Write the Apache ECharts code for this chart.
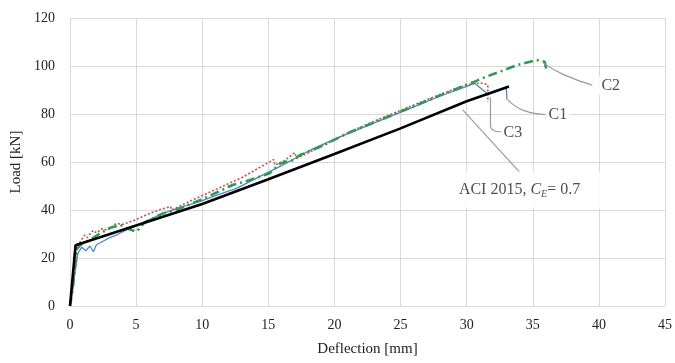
<!DOCTYPE html>
<html>
<head>
<meta charset="utf-8">
<script src="https://cdn.jsdelivr.net/npm/echarts@6/dist/echarts.min.js"></script>
<style>
  html, body { margin: 0; padding: 0; background: #fff; }
  #chart { width: 675px; height: 363px; }
</style>
</head>
<body>
<div id="chart"></div>
<script>
// Load–deflection curves for specimens C1–C3 vs ACI 2015 prediction.
// [deflection mm, load kN].

const C1 = [
  [0, 0], [0.2, 6], [0.4, 15], [0.6, 22], [0.9, 24.5], [1.2, 23], [1.5, 25], [1.77, 22.6],
  [2.0, 25.5], [2.5, 27], [3, 28.5], [3.5, 29.5], [4, 31], [5, 33.5], [6, 36], [7, 38.5],
  [8, 40.5], [9.8, 43.5], [11, 46], [12.6, 49], [14, 53], [16, 58.5], [18, 64.5], [20, 69.5],
  [22, 74], [24, 78.5], [26, 83], [28, 87.5], [29.5, 90.5], [30.6, 92.8], [31.6, 88.3],
  [33.0, 90.8], [33.05, 86],
];

const C2 = [
  [0, 0], [0.2, 7], [0.4, 17], [0.55, 24], [0.9, 26], [1.5, 27.5], [2.2, 30], [3.0, 32.5],
  [3.8, 33.8], [4.5, 32], [5.0, 31], [5.3, 32.5], [5.6, 34.7], [7, 38.5], [8, 40], [10, 44.5],
  [12.3, 50.4], [13.6, 52.5], [15.1, 55.3], [15.9, 59.4], [16.9, 60.8], [17.4, 62.9], [19, 66.5],
  [21, 72], [23, 76.5], [25, 81], [27, 85.5], [29, 90], [30.6, 93.5], [31.5, 95.6], [32.5, 97.6],
  [33.8, 100.4], [35.3, 102.5], [35.9, 101.8], [36.05, 98],
];

const C3 = [
  [0, 0], [0.2, 8], [0.4, 18], [0.55, 24], [0.8, 27], [1.1, 29.5], [1.3, 28.5], [1.75, 31.5],
  [2.0, 30.5], [2.5, 32.4], [2.8, 31.5], [3.5, 34.4], [4.0, 34], [5.0, 36], [6.0, 38.5],
  [7.0, 40.5], [7.6, 41.4], [7.7, 40], [9, 43.5], [11, 48.5], [13, 53.5], [15.4, 61],
  [15.5, 58.7], [16.2, 60.5], [17.0, 63.9], [17.15, 61.5], [19, 66.5], [21.2, 72.6], [23, 77],
  [25, 81.5], [27, 86], [29, 90.3], [30.5, 92.8], [31.3, 92.8], [31.6, 92], [31.6, 85],
];

const ACI = [
  [0, 0], [0.42, 25.3], [5, 33.5], [10, 42.5], [15, 52.8], [20, 63.3], [25, 74],
  [30, 85.3], [33.2, 91.5],
];

// annotation leaders (data coords) and their labels
const LEAD_C2 = [[35.8, 101.2], [37.3, 96.5], [39.5, 92]];
const LEAD_C1 = [[33.1, 86], [34.3, 81.5], [36.0, 79.8]];
const LEAD_C3 = [[31.8, 87], [31.8, 75], [32.1, 73], [32.7, 72.6]];
const LEAD_ACI = [[29.7, 81.7], [34.0, 55.8]];
const LABELS = [
  { at: [40.9, 91.7], text: 'C2', pad: [1, 3] },
  { at: [36.9, 79.6], text: 'C1', pad: [1, 3] },
  { at: [33.5, 72.0], text: 'C3', pad: [1, 3] },
  { at: [34.0, 48.3], text: '{a|ACI 2015, }{i|C}{s|E}{a|= 0.7}', pad: [9, 22] },
];

const X_TICKS = { min: 0, max: 45, interval: 5 };
const Y_TICKS = { min: 0, max: 120, interval: 20 };

const FONT = '"Liberation Serif", "DejaVu Serif", serif';
const GRID = '#d9d9d9';
const TXT = '#222';
const LEADER = '#9a9a9a';

const curve = (name, data, color, width, type, z) => ({
  name, type: 'line', data, symbol: 'none', showSymbol: false, silent: true,
  lineStyle: { color, width, type, cap: 'butt' }, z,
});
const leader = (data, smooth) => ({
  type: 'line', data, symbol: 'none', silent: true, smooth,
  lineStyle: { color: LEADER, width: 1.2 }, z: 5,
});

const labelSeries = {
  type: 'scatter', symbolSize: 0, silent: true, z: 8,
  data: LABELS.map(l => ({
    value: l.at,
    label: {
      show: true, position: 'inside', formatter: l.text,
      color: TXT, fontFamily: FONT, fontSize: 16,
      backgroundColor: '#fff', padding: l.pad,
      rich: {
        a: { color: TXT, fontFamily: FONT, fontSize: 16 },
        i: { color: TXT, fontFamily: FONT, fontSize: 16, fontStyle: 'italic' },
        s: { color: TXT, fontFamily: FONT, fontSize: 10, fontStyle: 'italic', padding: [9, 0, 0, 0] },
      },
    },
  })),
};

const axisText = { color: TXT, fontFamily: FONT, fontSize: 14 };

const option = {
  animation: false,
  grid: { left: 70, right: 10, top: 18, bottom: 57 },
  xAxis: {
    type: 'value', ...X_TICKS,
    name: 'Deflection [mm]', nameLocation: 'middle', nameGap: 36,
    nameTextStyle: { ...axisText, fontSize: 15 },
    axisLine: { show: false }, axisTick: { show: false },
    axisLabel: { ...axisText, margin: 12 },
    splitLine: { lineStyle: { color: GRID, width: 1 } },
  },
  yAxis: {
    type: 'value', ...Y_TICKS,
    name: 'Load [kN]', nameLocation: 'middle', nameGap: 43,
    nameTextStyle: { ...axisText, fontSize: 15 },
    axisLine: { show: false }, axisTick: { show: false },
    axisLabel: { ...axisText, margin: 15 },
    splitLine: { lineStyle: { color: GRID, width: 1 } },
  },
  series: [
    curve('C1', C1, '#4f86c6', 1.3, 'solid', 2),
    curve('C3', C3, '#c0504d', 1.6, [2, 2], 3),
    curve('C2', C2, '#2f9a55', 2.6, [9, 4, 2, 4], 3),
    curve('ACI 2015', ACI, '#000', 2.6, 'solid', 4),
    leader(LEAD_C2, 0.5),
    leader(LEAD_C1, 0.5),
    leader(LEAD_C3, 0.3),
    leader(LEAD_ACI, false),
    labelSeries,
  ],
};

const chart = echarts.init(document.getElementById('chart'), null, { renderer: 'canvas' });
chart.setOption(option);
</script>
</body>
</html>
